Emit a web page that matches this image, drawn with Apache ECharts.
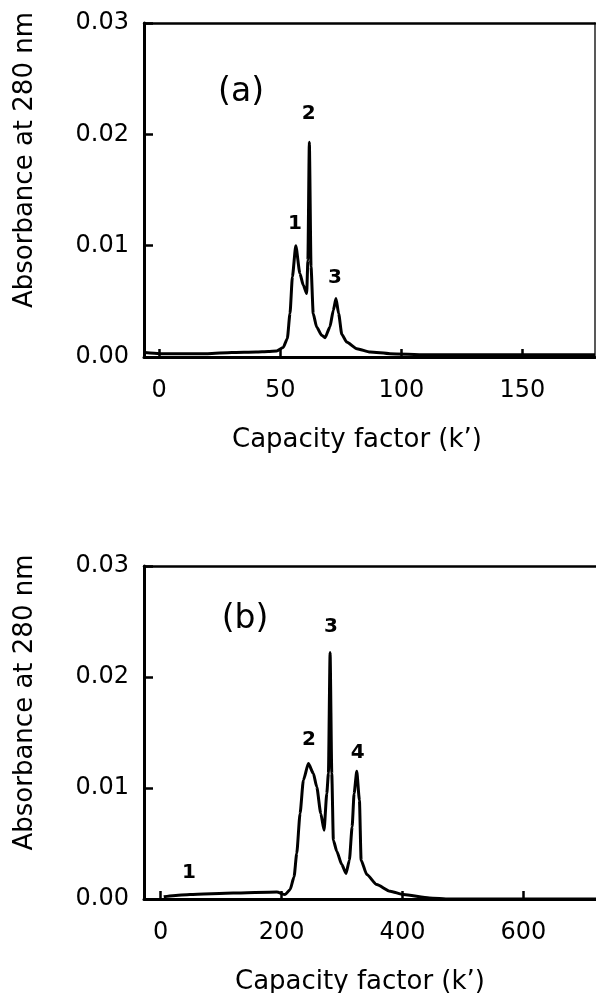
<!DOCTYPE html>
<html>
<head>
<meta charset="utf-8">
<script src="https://cdn.jsdelivr.net/npm/echarts@6/dist/echarts.min.js"></script>
<style>
html,body{margin:0;padding:0;background:#fff;}
#chart{width:596px;height:993px;}
</style>
</head>
<body>
<div id="chart"></div>
<script>
// ---- Panel (a) data ----
const kA = [-6, 0, 10, 20, 30, 40, 45, 48.5, 51.2, 52.9, 54, 55, 56.4, 58.1, 59.5, 60.9, 61.4, 62, 62.7, 63.6, 65, 67.1, 68.5, 70.5, 71.9, 73, 74.1, 75.4, 77.4, 81.6, 87.1, 95.3, 110, 130, 150, 180];
const absA = [0.0004, 0.0003, 0.0003, 0.0003, 0.0004, 0.00045, 0.0005, 0.00055, 0.00085, 0.00165, 0.0039, 0.0072, 0.0100, 0.0075, 0.00645, 0.0057, 0.0087, 0.0193, 0.0081, 0.0039, 0.0027, 0.00195, 0.00174, 0.0027, 0.0042, 0.00525, 0.0039, 0.00204, 0.00135, 0.00075, 0.00045, 0.0003, 0.0002, 0.0002, 0.0002, 0.0002];
const peakLabelsA = ['1', '2', '3'];
const peakLabelKA = [56.1, 61.7, 72.6];
const peakLabelAbsA = [0.0120, 0.0218, 0.0071];
const panelA = '(a)';
const panelAPos = [33.8, 0.0238];

// ---- Panel (b) data ----
const kB = [5, 20, 48.5, 120, 192, 205.7, 214, 220.6, 225, 230.5, 236, 244.3, 252.6, 258.1, 264.8, 270.2, 274.7, 277.4, 280.2, 283, 285.6, 291.2, 299.5, 306.6, 312.1, 316.6, 319.9, 324.3, 328.7, 331.5, 340.9, 357.4, 379.4, 401.5, 444.5, 477.6, 550, 650, 720];
const absB = [0.0002, 0.0003, 0.0004, 0.00054, 0.00063, 0.0004, 0.00084, 0.002, 0.0041, 0.0077, 0.0107, 0.0122, 0.0113, 0.0101, 0.0077, 0.0062, 0.0095, 0.0113, 0.0222, 0.0113, 0.0053, 0.0043, 0.0031, 0.0023, 0.0035, 0.0065, 0.0095, 0.0115, 0.0089, 0.0035, 0.0022, 0.0013, 0.0007, 0.0004, 0.0001, 0.0, 0.0, 0.0, 0.0];
const peakLabelsB = ['1', '2', '3', '4'];
const peakLabelKB = [46.8, 245.4, 281.5, 325.7];
const peakLabelAbsB = [0.0024, 0.0143, 0.0245, 0.0132];
const panelB = '(b)';
const panelBPos = [139.5, 0.0252];

// ---- Axis ticks ----
const ticksXA = [0, 50, 100, 150];
const ticksXB = [0, 200, 400, 600];
const yTitle = 'Absorbance at 280 nm';
const xTitle = 'Capacity factor (k\u2019)';

const FONT = 'DejaVu Sans';
const chart = echarts.init(document.getElementById('chart'), null, {renderer: 'canvas'});

function xAxisMain(grid, min, max, ticks, padRight) {
  return {
    type: 'value', gridIndex: grid, min: min, max: max, position: 'bottom',
    axisLine: {show: true, onZero: false, lineStyle: {color: '#000', width: 3}},
    axisTick: {show: true, inside: true, length: 8, customValues: ticks, lineStyle: {color: '#000', width: 2.5}},
    axisLabel: {show: true, customValues: ticks, margin: 22, color: '#000', fontFamily: FONT, fontSize: 24},
    splitLine: {show: false},
    name: xTitle, nameLocation: 'middle', nameGap: 70,
    nameTextStyle: {color: '#000', fontFamily: FONT, fontSize: 26, padding: [0, padRight, 0, 0]}
  };
}
function xAxisTop(grid, min, max) {
  return {
    type: 'value', gridIndex: grid, min: min, max: max, position: 'top',
    axisLine: {show: true, onZero: false, lineStyle: {color: '#000', width: 2.5}},
    axisTick: {show: false}, axisLabel: {show: false}, splitLine: {show: false}
  };
}
function yAxisMain(grid) {
  return {
    type: 'value', gridIndex: grid, min: 0, max: 0.03, interval: 0.01, position: 'left',
    axisLine: {show: true, onZero: false, lineStyle: {color: '#000', width: 3}},
    axisTick: {show: true, inside: true, length: 9, lineStyle: {color: '#000', width: 2.5}},
    axisLabel: {show: true, margin: 15, color: '#000', fontFamily: FONT, fontSize: 24,
      formatter: function (v) { return v.toFixed(2); }},
    splitLine: {show: false},
    name: yTitle, nameLocation: 'middle', nameGap: 106,
    nameTextStyle: {color: '#000', fontFamily: FONT, fontSize: 26, padding: [0, 0, 0, 60]}
  };
}
function yAxisRight(grid, show) {
  return {
    type: 'value', gridIndex: grid, min: 0, max: 0.03, position: 'right',
    axisLine: {show: show, onZero: false, lineStyle: {color: '#222', width: 1.5}},
    axisTick: {show: false}, axisLabel: {show: false}, splitLine: {show: false}
  };
}
function zip(xs, ys) { return xs.map(function (x, i) { return [x, ys[i]]; }); }
function labelData(names, xs, ys) {
  return names.map(function (n, i) { return {name: n, value: [xs[i], ys[i]]}; });
}
function textSeries(axisIdx, data, size, weight) {
  return {
    type: 'scatter', xAxisIndex: axisIdx, yAxisIndex: axisIdx, symbolSize: 0, silent: true,
    itemStyle: {opacity: 1}, data: data, z: 10,
    label: {show: true, position: 'inside', formatter: '{b}', color: '#000', opacity: 1,
      fontFamily: FONT, fontWeight: weight, fontSize: size}
  };
}

const option = {
  backgroundColor: '#fff',
  animation: false,
  grid: [
    {left: 144, right: 1, top: 23, height: 334, outerBoundsMode: 'none'},
    {left: 144, right: 0, top: 566, height: 333, outerBoundsMode: 'none'}
  ],
  xAxis: [
    xAxisMain(0, -6.3, 180, ticksXA, 25),
    xAxisTop(0, -6.3, 180),
    xAxisMain(1, -27.6, 720, ticksXB, 20),
    xAxisTop(1, -27.6, 720)
  ],
  yAxis: [
    yAxisMain(0), yAxisRight(0, true),
    yAxisMain(1), yAxisRight(1, false)
  ],
  series: [
    {type: 'line', xAxisIndex: 0, yAxisIndex: 0, data: zip(kA, absA), showSymbol: false,
      smooth: 0.2, smoothMonotone: 'x', lineStyle: {color: '#000', width: 3}, z: 5},
    {type: 'line', xAxisIndex: 2, yAxisIndex: 2, data: zip(kB, absB), showSymbol: false,
      smooth: 0.2, smoothMonotone: 'x', lineStyle: {color: '#000', width: 3}, z: 5},
    textSeries(0, labelData(peakLabelsA, peakLabelKA, peakLabelAbsA), 20, 'bold'),
    textSeries(2, labelData(peakLabelsB, peakLabelKB, peakLabelAbsB), 20, 'bold'),
    textSeries(0, [{name: panelA, value: panelAPos}], 33, 'normal'),
    textSeries(2, [{name: panelB, value: panelBPos}], 33, 'normal')
  ]
};
chart.setOption(option);
</script>
</body>
</html>
